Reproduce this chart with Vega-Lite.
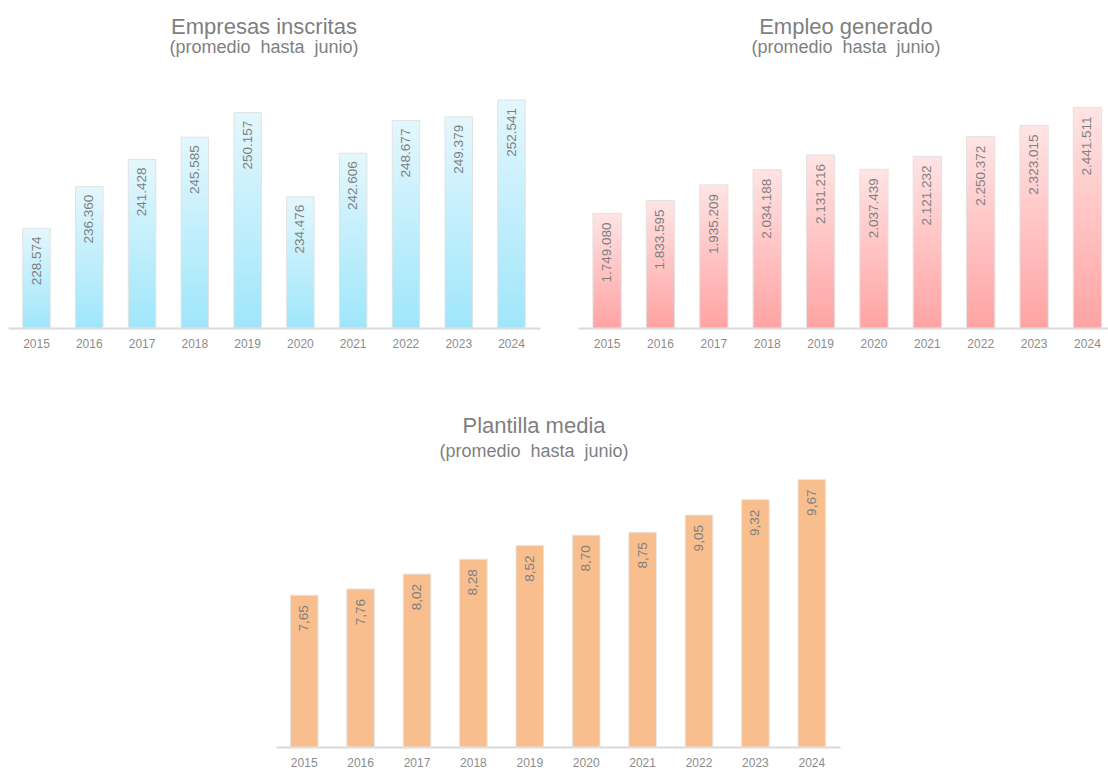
{
  "$schema": "https://vega.github.io/schema/vega-lite/v6.json",
  "padding": {"left": 8, "top": 16, "right": 0, "bottom": 0},
  "background": "white",
  "config": {
    "view": {"stroke": null},
    "font": "Liberation Sans",
    "locale": {"number": {"decimal": ",", "thousands": ".", "grouping": [3], "currency": ["", " €"]}},
    "title": {"fontSize": 22, "fontWeight": "normal", "color": "#7f7f7f", "subtitleFontSize": 18, "subtitleColor": "#7f7f7f", "anchor": "middle", "font": "Liberation Sans", "subtitleFont": "Liberation Sans"},
    "axis": {"domainColor": "#d9d9d9", "domainWidth": 2, "ticks": false, "tickSize": 0, "labelColor": "#8c8c8c", "labelFontSize": 12, "labelPadding": 10, "labelAngle": 0, "grid": false, "title": null}
  },
  "datasets": {
    "empresas": [
      {"year": "2015", "value": 228574},
      {"year": "2016", "value": 236360},
      {"year": "2017", "value": 241428},
      {"year": "2018", "value": 245585},
      {"year": "2019", "value": 250157},
      {"year": "2020", "value": 234476},
      {"year": "2021", "value": 242606},
      {"year": "2022", "value": 248677},
      {"year": "2023", "value": 249379},
      {"year": "2024", "value": 252541}
    ],
    "empleo": [
      {"year": "2015", "value": 1749080},
      {"year": "2016", "value": 1833595},
      {"year": "2017", "value": 1935209},
      {"year": "2018", "value": 2034188},
      {"year": "2019", "value": 2131216},
      {"year": "2020", "value": 2037439},
      {"year": "2021", "value": 2121232},
      {"year": "2022", "value": 2250372},
      {"year": "2023", "value": 2323015},
      {"year": "2024", "value": 2441511}
    ],
    "plantilla": [
      {"year": "2015", "value": 7.65},
      {"year": "2016", "value": 7.76},
      {"year": "2017", "value": 8.02},
      {"year": "2018", "value": 8.28},
      {"year": "2019", "value": 8.52},
      {"year": "2020", "value": 8.70},
      {"year": "2021", "value": 8.75},
      {"year": "2022", "value": 9.05},
      {"year": "2023", "value": 9.32},
      {"year": "2024", "value": 9.67}
    ]
  },
  "vconcat": [
    {
      "hconcat": [
        {
          "width": 532,
          "height": 242,
          "data": {"name": "empresas"},
          "title": {"text": "Empresas inscritas", "subtitle": "(promedio\u00a0 hasta\u00a0 junio)", "dx": -10, "offset": 28, "subtitlePadding": 0},
          "encoding": {
            "x": {"field": "year", "type": "ordinal", "scale": {"paddingInner": 0.48, "paddingOuter": 0.28}},
            "y": {"field": "value", "type": "quantitative", "scale": {"domain": [210000, 255130], "nice": false, "zero": false, "clamp": true}, "axis": null}
          },
          "layer": [
            {"mark": {"type": "bar", "stroke": "#e2e2e2", "strokeWidth": 1, "color": {"gradient": "linear", "x1": 0, "y1": 0, "x2": 0, "y2": 1, "stops": [{"offset": 0, "color": "#e4f7fd"}, {"offset": 1, "color": "#9fe6fb"}]}}},
            {"mark": {"type": "text", "angle": 270, "align": "right", "baseline": "middle", "dx": -8, "fontSize": 13.5, "color": "#7f7f7f"}, "encoding": {"text": {"field": "value", "type": "quantitative", "format": ",d"}}}
          ]
        },
        {
          "width": 530,
          "height": 242,
          "data": {"name": "empleo"},
          "title": {"text": "Empleo generado", "subtitle": "(promedio\u00a0 hasta\u00a0 junio)", "dx": 3, "offset": 28, "subtitlePadding": 0},
          "encoding": {
            "x": {"field": "year", "type": "ordinal", "scale": {"paddingInner": 0.47, "paddingOuter": 0.2, "align": 0.7}},
            "y": {"field": "value", "type": "quantitative", "scale": {"domain": [1000000, 2581700], "nice": false, "zero": false, "clamp": true}, "axis": null}
          },
          "layer": [
            {"mark": {"type": "bar", "stroke": "#e2e2e2", "strokeWidth": 1, "color": {"gradient": "linear", "x1": 0, "y1": 0, "x2": 0, "y2": 1, "stops": [{"offset": 0, "color": "#ffe4e4"}, {"offset": 1, "color": "#ffa3a3"}]}}},
            {"mark": {"type": "text", "angle": 270, "align": "right", "baseline": "middle", "dx": -9, "fontSize": 13.5, "color": "#7f7f7f"}, "encoding": {"text": {"field": "value", "type": "quantitative", "format": ",d"}}}
          ]
        }
      ],
      "spacing": 38
    },
    {
      "width": 564,
      "height": 280,
      "data": {"name": "plantilla"},
      "title": {"text": "Plantilla media", "subtitle": "(promedio\u00a0 hasta\u00a0 junio)", "dx": -24, "offset": 5, "subtitlePadding": 5},
      "encoding": {
        "x": {"field": "year", "type": "ordinal", "scale": {"paddingInner": 0.51, "paddingOuter": 0.255}},
        "y": {"field": "value", "type": "quantitative", "scale": {"domain": [5, 9.89], "nice": false, "zero": false, "clamp": true}, "axis": null}
      },
      "layer": [
        {"mark": {"type": "bar", "stroke": "#e6e6e6", "strokeWidth": 1, "color": "#f8be8d"}},
        {"mark": {"type": "text", "angle": 270, "align": "right", "baseline": "middle", "dx": -10, "fontSize": 13.5, "color": "#7f7f7f"}, "encoding": {"text": {"field": "value", "type": "quantitative", "format": ".2f"}}}
      ]
    }
  ],
  "spacing": 66,
  "center": true
}
